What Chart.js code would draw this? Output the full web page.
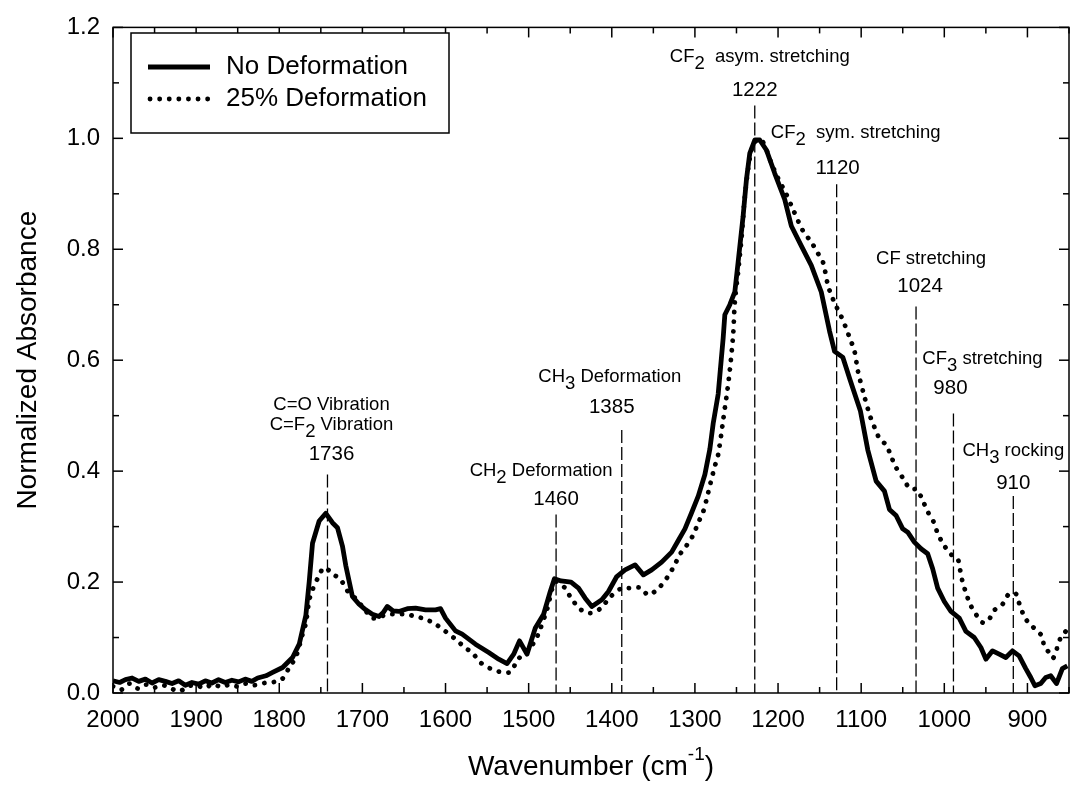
<!DOCTYPE html>
<html>
<head>
<meta charset="utf-8">
<script src="https://cdn.jsdelivr.net/npm/chart.js@4.4.0/dist/chart.umd.min.js"></script>
<style>
html, body { margin: 0; padding: 0; background: #fff; }
#wrap { width: 1070px; height: 797px; }
</style>
</head>
<body>
<div id="wrap"><canvas id="c" width="1070" height="797"></canvas></div>
<script>
// ---- data ----
const seriesNames = ['No Deformation', '25% Deformation'];

const noDefWn = [2000, 1992, 1985, 1977, 1969, 1961, 1953, 1945, 1937, 1929, 1921, 1913, 1905, 1897, 1889, 1881, 1873, 1865, 1857, 1849, 1841, 1833, 1826,
  1816, 1808, 1796, 1784, 1776, 1768, 1764, 1760, 1752, 1744, 1736, 1730, 1724, 1720, 1712, 1704, 1696, 1688, 1680, 1675, 1670, 1663, 1656, 1646, 1636, 1624, 1612, 1606,
  1600, 1588, 1580, 1564, 1548, 1536, 1526, 1518, 1511, 1502, 1492, 1482, 1474, 1469, 1461, 1449, 1440, 1432, 1424, 1412, 1404, 1394, 1384, 1372, 1362, 1352,
  1340, 1328, 1320, 1312, 1304, 1296, 1288, 1282, 1278, 1272, 1266, 1264, 1258, 1252, 1248, 1242, 1238, 1234, 1228, 1222, 1214, 1204, 1192, 1184, 1172, 1160,
  1148, 1138, 1132, 1122, 1113, 1101, 1092, 1082, 1072, 1066, 1058, 1050, 1044, 1036, 1028, 1020, 1014, 1008, 1000, 992, 982, 974, 964, 956, 950, 942, 934,
  926, 918, 910, 902, 896, 891, 884, 878, 872, 865, 858, 852];
const noDefAbs = [0.022, 0.019, 0.024, 0.027, 0.021, 0.025, 0.018, 0.024, 0.021, 0.017, 0.022, 0.014, 0.019, 0.016, 0.022, 0.018, 0.024, 0.019, 0.023, 0.020, 0.025, 0.021, 0.027,
  0.031, 0.037, 0.046, 0.064, 0.088, 0.140, 0.200, 0.270, 0.310, 0.324, 0.307, 0.298, 0.265, 0.230, 0.174, 0.160, 0.150, 0.142, 0.138, 0.145, 0.156, 0.148, 0.147, 0.152, 0.153, 0.150, 0.150, 0.152,
  0.135, 0.112, 0.106, 0.088, 0.073, 0.061, 0.053, 0.070, 0.094, 0.070, 0.117, 0.142, 0.183, 0.206, 0.202, 0.200, 0.189, 0.171, 0.156, 0.168, 0.183, 0.210, 0.222, 0.231, 0.213, 0.222,
  0.236, 0.254, 0.275, 0.296, 0.325, 0.355, 0.394, 0.440, 0.486, 0.539, 0.640, 0.682, 0.700, 0.723, 0.777, 0.860, 0.926, 0.973, 0.997, 0.997, 0.979, 0.937, 0.890, 0.842, 0.806, 0.771,
  0.723, 0.652, 0.616, 0.605, 0.563, 0.509, 0.438, 0.382, 0.364, 0.331, 0.320, 0.296, 0.290, 0.272, 0.260, 0.251, 0.224, 0.189, 0.165, 0.147, 0.135, 0.111, 0.100, 0.082, 0.061, 0.076, 0.070,
  0.064, 0.076, 0.067, 0.044, 0.028, 0.013, 0.017, 0.028, 0.031, 0.017, 0.044, 0.049];

const defWn = [2000, 1990, 1980, 1970, 1960, 1950, 1940, 1930, 1920, 1910, 1900, 1890, 1880, 1870, 1860, 1850, 1840, 1830, 1818, 1806,
  1796, 1788, 1780, 1772, 1768, 1764, 1760, 1754, 1746, 1736, 1726, 1718, 1708, 1698, 1688, 1678, 1668, 1658, 1648, 1636, 1624, 1612, 1600,
  1588, 1576, 1568, 1558, 1546, 1534, 1522, 1514, 1504, 1494, 1488, 1478, 1468, 1456, 1449, 1437, 1426, 1413, 1402, 1388, 1377, 1366, 1356,
  1343, 1333, 1325, 1318, 1310, 1302, 1296, 1290, 1286, 1281, 1276, 1272, 1266, 1259, 1254, 1252, 1248, 1244, 1239, 1230, 1220, 1208, 1200,
  1190, 1182, 1170, 1160, 1153, 1146, 1140, 1135, 1130, 1124, 1119, 1114, 1108, 1104, 1096, 1089, 1084, 1078, 1070, 1064, 1059, 1050, 1041,
  1033, 1026, 1020, 1013, 1008, 1001, 992, 984, 981, 978, 974, 969, 962, 954, 947, 940, 930, 922, 914, 910, 905, 900, 894, 888, 882, 880,
  874, 869, 860, 854];
const defAbs = [0.012, 0.006, 0.017, 0.008, 0.015, 0.010, 0.014, 0.008, 0.003, 0.012, 0.014, 0.009, 0.016, 0.011, 0.015, 0.012, 0.017, 0.014, 0.018, 0.020,
  0.026, 0.046, 0.065, 0.106, 0.126, 0.167, 0.186, 0.206, 0.226, 0.215, 0.204, 0.184, 0.170, 0.152, 0.135, 0.138, 0.142, 0.142, 0.142, 0.138, 0.133, 0.124, 0.111,
  0.097, 0.081, 0.073, 0.055, 0.044, 0.038, 0.038, 0.058, 0.075, 0.090, 0.108, 0.150, 0.200, 0.189, 0.171, 0.150, 0.144, 0.153, 0.173, 0.189, 0.189, 0.190, 0.177,
  0.190, 0.209, 0.229, 0.250, 0.266, 0.285, 0.307, 0.327, 0.349, 0.380, 0.409, 0.430, 0.492, 0.569, 0.646, 0.705, 0.759, 0.819, 0.908, 0.990, 0.997, 0.955, 0.928,
  0.899, 0.872, 0.833, 0.813, 0.795, 0.777, 0.735, 0.714, 0.697, 0.679, 0.661, 0.641, 0.616, 0.581, 0.534, 0.498, 0.479, 0.459, 0.447, 0.427, 0.409, 0.388, 0.368,
  0.367, 0.347, 0.327, 0.309, 0.288, 0.268, 0.250, 0.242, 0.222, 0.200, 0.181, 0.160, 0.142, 0.127, 0.131, 0.149, 0.160, 0.179, 0.179, 0.162, 0.142, 0.129, 0.120, 0.111, 0.102, 0.085,
  0.073, 0.063, 0.100, 0.111];

// marker lines: where they sit, how high they reach, and their captions
const peakWn = [1742, 1467, 1388, 1228, 1129.5, 1034, 989, 917];
const peakTop = [0.394, 0.322, 0.474, 1.059, 0.917, 0.697, 0.504, 0.355];
const peakNum = ['1736', '1460', '1385', '1222', '1120', '1024', '980', '910'];
const peakName = [['C=O Vibration', 'C=F_2 Vibration'], ['CH_2 Deformation'], ['CH_3 Deformation'], ['CF_2  asym. stretching'],
  ['CF_2  sym. stretching'], ['CF stretching'], ['CF_3 stretching'], ['CH_3 rocking']];

const xMajorTicks = [2000, 1900, 1800, 1700, 1600, 1500, 1400, 1300, 1200, 1100, 1000, 900];
const xMinorTicks = [1950, 1850, 1750, 1650, 1550, 1450, 1350, 1250, 1150, 1050, 950, 850];
const yMajorTicks = [0, 0.2, 0.4, 0.6, 0.8, 1.0, 1.2];
const yMinorTicks = [0.1, 0.3, 0.5, 0.7, 0.9, 1.1];

// caption offsets in px (nx: name dx, dx: number dx, dy: number above line top, ny: name above number)
const capStyle = [
  {nx: 4, dx: 4, dy: -20, ny: -30}, {nx: -15, dx: 0, dy: -15, ny: -28}, {nx: -12, dx: -10, dy: -23, ny: -30},
  {nx: 5, dx: 0, dy: -15, ny: -34}, {nx: 19, dx: 1, dy: -16, ny: -35}, {nx: 15, dx: 4, dy: -20, ny: -27},
  {nx: 29, dx: -3, dy: -25, ny: -30}, {nx: 0, dx: 0, dy: -13, ny: -32}
];

const FONT = '"Liberation Sans", Arial, sans-serif';

function toXY(xs, ys) {
  return xs.map((v, i) => ({x: v, y: ys[i]}));
}

const datasets = [
  {label: seriesNames[0], data: toXY(noDefWn, noDefAbs), borderColor: '#000', borderWidth: 4.8,
   pointRadius: 0, tension: 0, borderJoinStyle: 'round', order: 0},
  {label: seriesNames[1], data: toXY(defWn, defAbs), borderColor: '#000', borderWidth: 4.8,
   borderDash: [0.1, 9.5], borderCapStyle: 'round', pointRadius: 0, tension: 0.3, order: 1}
];
peakWn.forEach((w, i) => {
  datasets.push({label: 'mark' + i, data: [{x: w, y: peakTop[i]}, {x: w, y: 0}], borderColor: '#000',
    borderWidth: 1.3, borderDash: [13, 4], pointRadius: 0, order: 2});
});

// draws "CF_2" style text with a lowered subscript, centred on cx
function drawSubText(ctx, str, cx, cy, size) {
  const parts = [];
  let i = 0;
  while (i < str.length) {
    if (str[i] === '_') { parts.push({t: str[i + 1], sub: true}); i += 2; }
    else {
      let j = i;
      while (j < str.length && str[j] !== '_') j++;
      parts.push({t: str.slice(i, j), sub: false}); i = j;
    }
  }
  ctx.font = size + 'px ' + FONT;
  let w = 0;
  parts.forEach(p => { p.w = ctx.measureText(p.t).width; w += p.w; });
  let x = cx - w / 2;
  ctx.textAlign = 'left';
  ctx.textBaseline = 'middle';
  parts.forEach(p => {
    ctx.fillText(p.t, x, p.sub ? cy + 7 : cy);
    x += p.w;
  });
}

const extras = {
  id: 'extras',
  afterDraw(chart) {
    const ctx = chart.ctx;
    const xs = chart.scales.x, ys = chart.scales.y;
    const {left, right, top, bottom} = chart.chartArea;
    ctx.save();
    ctx.strokeStyle = '#000';
    ctx.fillStyle = '#000';
    ctx.lineWidth = 1.5;

    // ticks pointing inward on all four sides
    function seg(x1, y1, x2, y2) { ctx.beginPath(); ctx.moveTo(x1, y1); ctx.lineTo(x2, y2); ctx.stroke(); }
    xMajorTicks.forEach(v => { const p = xs.getPixelForValue(v); seg(p, bottom, p, bottom - 10); seg(p, top, p, top + 10); });
    xMinorTicks.forEach(v => { const p = xs.getPixelForValue(v); seg(p, bottom, p, bottom - 6); seg(p, top, p, top + 6); });
    yMajorTicks.forEach(v => { const p = ys.getPixelForValue(v); seg(left, p, left + 10, p); seg(right, p, right - 10, p); });
    yMinorTicks.forEach(v => { const p = ys.getPixelForValue(v); seg(left, p, left + 6, p); seg(right, p, right - 6, p); });
    ctx.strokeRect(left, top, right - left, bottom - top);

    // captions above each marker line
    peakWn.forEach((w, i) => {
      const px = xs.getPixelForValue(w);
      const py = ys.getPixelForValue(peakTop[i]);
      const st = capStyle[i];
      const numY = py + st.dy;
      drawSubText(ctx, peakNum[i], px + st.dx, numY, 20.5);
      const names = peakName[i];
      names.forEach((n, k) => {
        const yy = numY + st.ny - (names.length - 1 - k) * 20;
        drawSubText(ctx, n, px + st.nx, yy, 18.5);
      });
    });

    // legend box
    const lx = 131, ly = 33, lw = 318, lh = 100;
    ctx.fillStyle = '#fff';
    ctx.fillRect(lx, ly, lw, lh);
    ctx.lineWidth = 1.5;
    ctx.strokeRect(lx, ly, lw, lh);
    ctx.fillStyle = '#000';
    const rows = [ly + 34, ly + 66];
    ctx.lineWidth = 4.8;
    ctx.setLineDash([]);
    seg(148, rows[0], 210, rows[0]);
    ctx.lineCap = 'round';
    ctx.setLineDash([0.1, 9.5]);
    seg(150, rows[1], 210, rows[1]);
    ctx.setLineDash([]);
    ctx.lineCap = 'butt';
    ctx.font = '26px ' + FONT;
    ctx.textAlign = 'left';
    ctx.textBaseline = 'middle';
    ctx.fillText(seriesNames[0], 226, rows[0]);
    ctx.fillText(seriesNames[1], 226, rows[1]);

    // axis titles
    ctx.font = '28px ' + FONT;
    ctx.textAlign = 'center';
    ctx.textBaseline = 'middle';
    ctx.save();
    ctx.translate(28, (top + bottom) / 2);
    ctx.rotate(-Math.PI / 2);
    ctx.fillText('Normalized Absorbance', 0, 0);
    ctx.restore();

    const t1 = 'Wavenumber (cm', t2 = '-1', t3 = ')';
    ctx.font = '28px ' + FONT;
    const w1 = ctx.measureText(t1).width, w3 = ctx.measureText(t3).width;
    ctx.font = '19px ' + FONT;
    const w2 = ctx.measureText(t2).width;
    let tx = (left + right) / 2 - (w1 + w2 + w3) / 2;
    const ty = 767;
    ctx.textAlign = 'left';
    ctx.font = '28px ' + FONT;
    ctx.fillText(t1, tx, ty);
    ctx.font = '19px ' + FONT;
    ctx.fillText(t2, tx + w1, ty - 12);
    ctx.font = '28px ' + FONT;
    ctx.fillText(t3, tx + w1 + w2, ty);
    ctx.restore();
  }
};

new Chart(document.getElementById('c'), {
  type: 'line',
  data: {datasets: datasets},
  options: {
    responsive: false,
    devicePixelRatio: 1,
    animation: false,
    events: [],
    layout: {padding: {top: 20, right: 1, left: 0, bottom: 0}},
    plugins: {legend: {display: false}, tooltip: {enabled: false}},
    scales: {
      x: {
        type: 'linear', reverse: true, min: 850, max: 2000,
        afterBuildTicks: s => { s.ticks = xMajorTicks.map(v => ({value: v})); },
        afterFit: s => { s.height = 104; },
        grid: {display: false, drawTicks: false},
        border: {display: false},
        ticks: {color: '#000', font: {family: FONT, size: 24}, padding: 13, maxRotation: 0, autoSkip: false,
          callback: v => String(v)}
      },
      y: {
        type: 'linear', min: 0, max: 1.2,
        afterBuildTicks: s => { s.ticks = yMajorTicks.map(v => ({value: v})); },
        afterFit: s => { s.width = 113; },
        grid: {display: false, drawTicks: false},
        border: {display: false},
        ticks: {color: '#000', font: {family: FONT, size: 24}, padding: 13,
          callback: v => Number(v).toFixed(1)}
      }
    }
  },
  plugins: [extras]
});
</script>
</body>
</html>
